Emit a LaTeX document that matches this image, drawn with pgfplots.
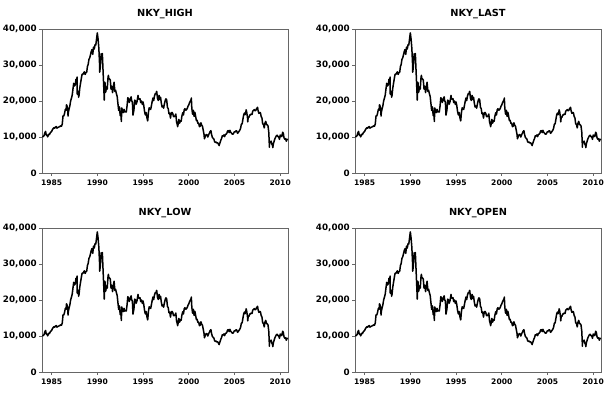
\documentclass[border=0pt]{standalone}
\usepackage{fontspec}
\setmainfont{DejaVu Sans}
\usepackage{pgfplots}
\usepackage{pgfplotstable}
\pgfplotsset{compat=1.18}
\pgfplotstableread{
t v
1984.00 9927
1984.083 10196
1984.167 10300
1984.25 11100
1984.34 11550
1984.417 10515
1984.50 10519
1984.56 10050
1984.583 10110
1984.667 10765
1984.75 10640
1984.833 11050
1984.917 11330
1985.00 11543
1985.083 11992
1985.167 12321
1985.25 12580
1985.333 12426
1985.417 12758
1985.50 12882
1985.583 12449
1985.667 12642
1985.75 12700
1985.833 12842
1985.917 12905
1986.00 13113
1986.083 13024
1986.167 13640
1986.25 15860
1986.333 15826
1986.417 16561
1986.50 17654
1986.583 17469
1986.63 18936
1986.667 18787
1986.75 17852
1986.80 15820
1986.833 16910
1986.917 17852
1987.00 18701
1987.083 20048
1987.167 20766
1987.25 21567
1987.333 23274
1987.417 24902
1987.50 24176
1987.583 24488
1987.667 26029
1987.75 26011
1987.79 26646
1987.80 21910
1987.833 22765
1987.917 22687
1987.95 21036
1988.00 21564
1988.083 23622
1988.167 24970
1988.25 26260
1988.333 27434
1988.417 27418
1988.50 27769
1988.583 28101
1988.667 27366
1988.75 27924
1988.833 27923
1988.917 29579
1989.00 30159
1989.083 31581
1989.167 31986
1989.25 32838
1989.333 33714
1989.417 34266
1989.50 32949
1989.583 34954
1989.667 34431
1989.75 35637
1989.833 35549
1989.917 37269
1990.00 38916
1990.083 37188
1990.167 34592
1990.25 29980
1990.26 28002
1990.333 29584
1990.417 33131
1990.50 31940
1990.55 33170
1990.583 31036
1990.667 25978
1990.75 20984
1990.755 20222
1990.833 25194
1990.917 22455
1991.00 23849
1991.083 23293
1991.167 26409
1991.21 27146
1991.25 26292
1991.333 26111
1991.417 25790
1991.50 23291
1991.583 24121
1991.667 22336
1991.75 23916
1991.833 25222
1991.917 22687
1992.00 22984
1992.083 22023
1992.167 21339
1992.25 19346
1992.333 17391
1992.417 18348
1992.50 15952
1992.583 15910
1992.63 14309
1992.667 18061
1992.75 17399
1992.833 16767
1992.917 17684
1993.00 16925
1993.083 17024
1993.167 16953
1993.25 18591
1993.333 20919
1993.417 20552
1993.50 19591
1993.583 20380
1993.667 21027
1993.70 21148
1993.75 20106
1993.833 19703
1993.90 16078
1993.917 16408
1994.00 17417
1994.083 20229
1994.167 19997
1994.25 19112
1994.333 19725
1994.417 20974
1994.45 21552
1994.50 20644
1994.583 20449
1994.667 20629
1994.75 19564
1994.833 19990
1994.917 19076
1995.00 19723
1995.083 18650
1995.167 17053
1995.25 16140
1995.333 16807
1995.417 15437
1995.50 14517
1995.51 14485
1995.583 16678
1995.667 18117
1995.75 17913
1995.833 17655
1995.917 18744
1996.00 19868
1996.083 20813
1996.167 20125
1996.25 21407
1996.333 22041
1996.417 21956
1996.48 22666
1996.50 22530
1996.583 20693
1996.667 20167
1996.75 21556
1996.833 20467
1996.917 21020
1997.00 19361
1997.083 18330
1997.167 18557
1997.25 18003
1997.333 19151
1997.417 20069
1997.50 20605
1997.583 20331
1997.667 18229
1997.75 17888
1997.833 16459
1997.917 16631
1998.00 15259
1998.083 16628
1998.167 16831
1998.25 16527
1998.333 15641
1998.417 15671
1998.50 15830
1998.583 16379
1998.667 14108
1998.75 13406
1998.78 12880
1998.833 13564
1998.917 14883
1999.00 13842
1999.083 14500
1999.167 14368
1999.25 15837
1999.333 16701
1999.417 16112
1999.50 17530
1999.583 17862
1999.667 17437
1999.75 17605
1999.833 17943
1999.917 18558
2000.00 18934
2000.083 19540
2000.167 19960
2000.25 20337
2000.28 20833
2000.333 17974
2000.417 16332
2000.50 17411
2000.583 15727
2000.667 16861
2000.75 15747
2000.833 14540
2000.917 14649
2001.00 13785
2001.083 13843
2001.167 12883
2001.25 12999
2001.333 13934
2001.417 13262
2001.50 12969
2001.583 11861
2001.667 10713
2001.71 9504
2001.75 9775
2001.833 10366
2001.917 10697
2002.00 10543
2002.083 9997
2002.167 10587
2002.25 11025
2002.333 11492
2002.417 11764
2002.50 10621
2002.583 9877
2002.667 9619
2002.75 9383
2002.833 8640
2002.917 8506
2003.00 8579
2003.083 8340
2003.167 8363
2003.25 7973
2003.32 7607
2003.333 7831
2003.417 8425
2003.50 9083
2003.583 9563
2003.667 10344
2003.75 10219
2003.833 10560
2003.917 10101
2004.00 10677
2004.083 10784
2004.167 11042
2004.25 11715
2004.333 11762
2004.417 11236
2004.50 11859
2004.583 11326
2004.667 11082
2004.75 10824
2004.833 10771
2004.917 11111
2005.00 11489
2005.083 11388
2005.167 11741
2005.25 11669
2005.333 11009
2005.417 11277
2005.50 11584
2005.583 11900
2005.667 12414
2005.75 13574
2005.833 13607
2005.917 14872
2006.00 16111
2006.083 16650
2006.167 16206
2006.25 17060
2006.27 17563
2006.333 16907
2006.417 15467
2006.45 14218
2006.50 15505
2006.583 15457
2006.667 16141
2006.75 16128
2006.833 16399
2006.917 16274
2007.00 17226
2007.083 17383
2007.167 17604
2007.25 17288
2007.333 17400
2007.417 17876
2007.50 18138
2007.52 18262
2007.583 17249
2007.667 16569
2007.75 16786
2007.833 16738
2007.917 15681
2008.00 15307
2008.083 13592
2008.167 13603
2008.25 12526
2008.333 13850
2008.417 14338
2008.50 13481
2008.583 13377
2008.667 13073
2008.75 11260
2008.82 7162
2008.833 8577
2008.917 8512
2009.00 8860
2009.083 7994
2009.167 7568
2009.19 7054
2009.25 8110
2009.333 8828
2009.417 9523
2009.50 9958
2009.583 10357
2009.667 10492
2009.75 10133
2009.833 10035
2009.917 9346
2010.00 10546
2010.083 10198
2010.167 10126
2010.25 11090
2010.27 11339
2010.333 11057
2010.417 9769
2010.50 9383
2010.583 9537
2010.667 8824
2010.75 9369
2010.833 9202
}\nky
\pgfplotsset{nky/.style={
  anchor=south west, scale only axis, width=246bp, height=144bp,
  xmin=1983.95, xmax=2010.85, ymin=0, ymax=40000,
  xtick={1985,1990,1995,2000,2005,2010},
  ytick={0,10000,20000,30000,40000},
  tick align=outside, tick pos=left,
  major tick length=3bp,
  axis line style={black!60, line width=0.6bp},
  major tick style={black!60, line width=0.6bp},
  scaled y ticks=false,
  /pgf/number format/assume math mode=true,
  yticklabel style={font=\fontsize{8.8}{10}\bfseries, inner sep=2bp, /pgf/number format/.cd, fixed, 1000 sep={,}},
  xticklabel style={font=\fontsize{7.6}{9}\bfseries, /pgf/number format/.cd, 1000 sep={}},
  title style={font=\fontsize{9.8}{12}\bfseries, yshift=1bp},
}}
\begin{document}
\begin{tikzpicture}
\path[use as bounding box] (0,0) rectangle (611bp,412bp);
\begin{axis}[nky, at={(42bp,239bp)}, title={NKY\_HIGH}]
\addplot[black, line width=1.5bp, line join=round, no markers] table[x=t,y=v]{\nky};
\end{axis}
\begin{axis}[nky, at={(355bp,239bp)}, title={NKY\_LAST}]
\addplot[black, line width=1.5bp, line join=round, no markers] table[x=t,y=v]{\nky};
\end{axis}
\begin{axis}[nky, at={(42bp,40bp)}, title={NKY\_LOW}]
\addplot[black, line width=1.5bp, line join=round, no markers] table[x=t,y=v]{\nky};
\end{axis}
\begin{axis}[nky, at={(355bp,40bp)}, title={NKY\_OPEN}]
\addplot[black, line width=1.5bp, line join=round, no markers] table[x=t,y=v]{\nky};
\end{axis}
\end{tikzpicture}
\end{document}
